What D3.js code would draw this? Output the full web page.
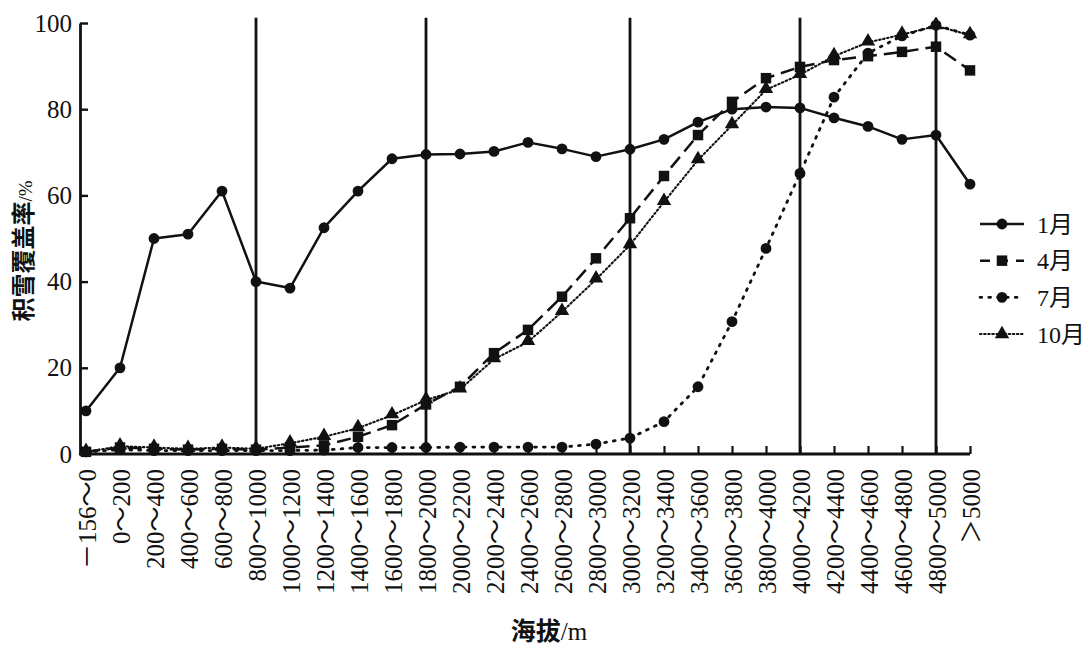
<!DOCTYPE html>
<html><head><meta charset="utf-8">
<script src="https://cdn.jsdelivr.net/npm/d3@7/dist/d3.min.js"></script>
<style>
html,body{margin:0;padding:0;background:#fff;}
svg{display:block;}
</style></head>
<body>
<svg id="chart" width="1087" height="646"></svg>
<script>
const categories = ["－156～0","0～200","200～400","400～600","600～800","800～1000","1000～1200","1200～1400","1400～1600","1600～1800","1800～2000","2000～2200","2200～2400","2400～2600","2600～2800","2800～3000","3000～3200","3200～3400","3400～3600","3600～3800","3800～4000","4000～4200","4200～4400","4400～4600","4600～4800","4800～5000","＞5000"];
const jan = [10,20,50,51,61,40,38.5,52.5,61,68.5,69.5,69.6,70.2,72.3,70.8,69,70.7,73,77,80,80.5,80.3,78,76,73,74,62.6];
const apr = [0.5,1.5,1.2,1,1.2,1,1.5,2,4,6.7,11.5,15.6,23.4,28.8,36.5,45.4,54.7,64.5,74,81.7,87.2,89.8,91.4,92.3,93.3,94.5,89];
const jul = [0.5,1,0.8,0.8,0.8,0.8,0.8,0.9,1.5,1.5,1.5,1.6,1.6,1.6,1.6,2.3,3.7,7.5,15.6,30.7,47.7,65.1,82.8,93,97,99.5,97.2];
const oct = [0.5,1.8,1.5,1.2,1.5,1.2,2.5,4,6,9,12.5,15,22,26,33,40.5,48.5,58.5,68.2,76.3,84.5,88,92.3,95.5,97.3,99.3,97.2];
const yTicks = [0,20,40,60,80,100];
const dividers = ["800～1000","1800～2000","3000～3200","4000～4200","4800～5000"];
const seriesNames = ["1月","4月","7月","10月"];

const svg = d3.select("#chart");
const ink = "#111";
const x = d3.scalePoint().domain(categories).range([86, 970]);
const y = d3.scaleLinear().domain([0,100]).range([454, 23]);

// vertical divider lines
svg.append("g").selectAll("line").data(dividers).join("line")
  .attr("x1", d=>x(d)).attr("x2", d=>x(d))
  .attr("y1", y(101.2)).attr("y2", y(0))
  .attr("stroke", ink).attr("stroke-width", 2.8);

// Y axis
const yAxis = svg.append("g").attr("transform","translate(80,0)")
  .call(d3.axisLeft(y).tickValues(yTicks).tickSize(-8).tickSizeOuter(0).tickPadding(8));
yAxis.select(".domain").attr("stroke", ink).attr("stroke-width", 2.8);
yAxis.selectAll(".tick line").attr("stroke", ink).attr("stroke-width", 2.4);
yAxis.selectAll(".tick text").attr("font-family","'Liberation Serif', serif").attr("font-size", 25).attr("fill", ink);

// X axis
const xAxis = svg.append("g").attr("transform", `translate(0,${y(0)})`)
  .call(d3.axisBottom(x).tickSize(-8).tickSizeOuter(0).tickPadding(0));
xAxis.select(".domain").attr("d", `M${x(categories[0])-7},0H${x(categories[categories.length-1])}`)
  .attr("stroke", ink).attr("stroke-width", 3);
xAxis.selectAll(".tick line").attr("stroke", ink).attr("stroke-width", 2.2);
xAxis.selectAll(".tick text")
  .attr("font-family","'Liberation Serif', 'Noto Sans CJK SC', serif").attr("font-size", 25).attr("fill", ink)
  .attr("text-anchor","end")
  .attr("transform","translate(0,15) rotate(-90)")
  .attr("x", 0).attr("y", 0).attr("dy","0.36em");

// Series
const series = [
  {name:"1月", data:jan, dash:null, w:2.5, marker:"circle"},
  {name:"4月", data:apr, dash:"14,7", w:2.5, marker:"square"},
  {name:"7月", data:jul, dash:"1.8,7", w:2.8, marker:"circle", cap:"round"},
  {name:"10月", data:oct, dash:"1.5,2.6", w:2.1, marker:"triangle", cap:"round"}
];
const symbolOf = m => m==="circle" ? d3.symbol(d3.symbolCircle, 92)
                  : m==="square" ? d3.symbol(d3.symbolSquare, 110)
                  : d3.symbol(d3.symbolTriangle, 90);
const line = d3.line().x((d,i)=>x(categories[i])).y(d=>y(d));

series.forEach(s=>{
  const g = svg.append("g");
  g.append("path").datum(s.data).attr("d", line)
    .attr("fill","none").attr("stroke", ink).attr("stroke-width", s.w)
    .attr("stroke-dasharray", s.dash).attr("stroke-linecap", s.cap || "butt")
    .attr("stroke-linejoin","round");
  g.selectAll("path.m").data(s.data).join("path").attr("class","m")
    .attr("d", symbolOf(s.marker))
    .attr("transform",(d,i)=>`translate(${x(categories[i])},${y(d) - (s.marker==="triangle"?1:0)})`)
    .attr("fill", ink);
});

// Legend
const legendY = d3.scalePoint().domain(seriesNames).range([224, 334]);
const lg = svg.append("g");
series.forEach(s=>{
  const yy = legendY(s.name);
  lg.append("line").attr("x1",980).attr("x2",1024).attr("y1",yy).attr("y2",yy)
    .attr("stroke",ink).attr("stroke-width",s.w).attr("stroke-dasharray", s.dash ? (s.name==="4月"?"10,8":s.dash) : null)
    .attr("stroke-linecap", s.cap || "butt");
  lg.append("path").attr("d", symbolOf(s.marker)).attr("transform",`translate(1002,${yy})`).attr("fill",ink);
  lg.append("text").attr("x",1037).attr("y",yy).attr("dy","0.36em")
    .attr("font-family","'Liberation Serif', 'Noto Sans CJK SC', serif").attr("font-size",24).attr("fill",ink)
    .text(s.name);
});

// Axis titles
const xt = svg.append("text").attr("x", 549).attr("y", 640).attr("text-anchor","middle").attr("fill", ink);
xt.append("tspan").attr("font-family","'Noto Sans CJK SC', sans-serif").attr("font-weight","bold").attr("font-size",25).text("海拔");
xt.append("tspan").attr("font-family","'Liberation Serif', serif").attr("font-size",25).text("/m");

const yt = svg.append("text").attr("transform","translate(32,251) rotate(-90)").attr("text-anchor","middle").attr("fill", ink);
yt.append("tspan").attr("font-family","'Noto Sans CJK SC', sans-serif").attr("font-weight","bold").attr("font-size",24).text("积雪覆盖率");
yt.append("tspan").attr("font-family","'Liberation Serif', serif").attr("font-size",19).text("/%");
</script>
</body></html>
